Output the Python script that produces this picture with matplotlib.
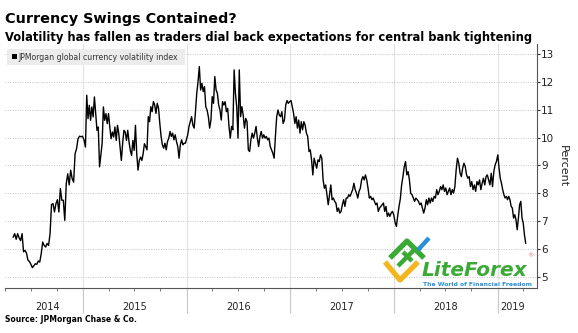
import matplotlib
matplotlib.use("Agg")
import matplotlib.pyplot as plt
from matplotlib.patches import Rectangle
from matplotlib.lines import Line2D
from matplotlib.transforms import blended_transform_factory
import pandas as pd

# JPMorgan global currency volatility index, one list per year
vals_2014 = [6.43, 6.55, 6.35, 6.55, 6.4, 6.3, 6.55, 5.9, 5.95, 5.85, 5.6, 5.55, 5.45,
             5.33, 5.4, 5.47, 5.45, 5.57, 5.53, 5.83, 6.25, 6.13, 6.07, 6.2, 6.13, 6.55,
             7.6, 7.63, 7.33, 7.63, 7.77, 7.33, 8.17, 7.75, 7.75, 7.03, 8.35, 8.7, 8.3,
             8.83, 8.53, 8.4, 9.42, 9.6, 9.96, 10.05, 10.03, 10.05]
vals_2015 = [9.9, 9.66, 11.52, 10.68, 11.16, 10.62, 11.1, 10.74, 11.46, 10.86, 10.26,
             10.38, 8.95, 9.36, 9.78, 11.1, 10.62, 10.86, 10.5, 10.86, 10.38, 9.96, 10.2,
             10.02, 10.38, 9.9, 10.44, 10.14, 9.66, 9.18, 9.78, 10.26, 10.2, 9.9, 10.26,
             9.84, 9.54, 9.36, 9.9, 9.54, 10.44, 9.42, 8.83, 9.18, 9.3, 9.18, 9.42, 9.78,
             9.68, 9.56, 10.75, 10.57, 11.11, 10.93, 11.29, 11.17, 10.87, 11.23, 11.05,
             10.51, 10.04, 9.74, 9.62, 9.8, 9.56, 9.86, 9.98, 10.22, 10.04, 10.16, 9.92,
             10.1, 9.86, 9.68, 9.26, 9.74, 9.92, 9.74, 9.8, 9.8]
vals_2016 = [10.1, 10.4, 10.57, 10.75, 10.45, 10.34, 10.93, 11.59, 12.01, 12.55, 11.71,
             11.95, 11.65, 11.83, 11.11, 10.99, 10.75, 10.34, 10.63, 11.47, 11.23, 12.19,
             11.71, 11.59, 11.17, 10.99, 10.63, 11.29, 11.17, 11.29, 10.93, 11.05, 10.4,
             9.98, 10.4, 10.28, 12.43, 11.59, 11.11, 9.98, 12.43, 10.75, 11.11, 10.81,
             10.34, 10.69, 10.57, 9.56, 9.5, 9.92, 10.16, 9.98, 10.16, 10.4, 9.98, 9.68,
             10.04, 10.22, 9.98, 10.1, 9.98, 10.04, 9.92, 9.98, 9.68, 9.56, 9.44, 9.26,
             10.04, 10.75, 10.99, 10.81, 10.75, 10.93, 10.51, 10.63, 11.17, 11.33, 11.23,
             11.29]
vals_2017 = [11.33, 11.11, 10.87, 10.51, 10.75, 10.34, 10.63, 10.16, 10.57, 10.28, 10.57,
             10.45, 10.16, 10.04, 9.5, 9.56, 9.2, 8.66, 9.26, 9.08, 8.9, 9.2, 9.14, 9.38,
             9.26, 8.48, 8.18, 8.3, 7.95, 7.59, 7.95, 8.3, 7.77, 7.83, 7.71, 7.65, 7.35,
             7.47, 7.29, 7.35, 7.59, 7.77, 7.53, 7.83, 7.83, 7.95, 7.89, 8.01, 8.13, 8.36,
             8.13, 8.01, 7.83, 8.07, 8.18, 8.48, 8.6, 8.48, 8.66, 8.48, 8.18, 7.83, 7.89,
             7.77, 7.83, 7.71, 7.59, 7.65, 7.35, 7.47, 7.53, 7.59, 7.65, 7.35, 7.53, 7.17,
             7.29, 7.17, 7.29, 7.35, 7.23]
vals_2018 = [6.95, 6.81, 7.2, 7.53, 7.8, 8.3, 8.6, 8.95, 9.14, 8.66, 8.78, 8.48, 8.0, 7.95,
             7.83, 7.71, 7.83, 7.77, 7.71, 7.59, 7.65, 7.47, 7.29, 7.47, 7.77, 7.59, 7.83,
             7.65, 7.83, 7.71, 7.89, 7.83, 8.13, 7.95, 8.07, 8.24, 8.13, 8.3, 8.07, 8.19,
             7.95, 8.07, 8.19, 7.95, 8.13, 8.01, 8.24, 8.84, 9.26, 9.08, 8.72, 8.6, 8.9,
             9.08, 8.96, 8.66, 8.54, 8.6, 8.24, 8.42, 8.13, 8.3, 8.07, 8.42, 8.3, 8.48,
             8.13, 8.36, 8.54, 8.3, 8.6, 8.66, 8.48, 8.3, 8.72, 8.24, 8.78, 9.02, 9.14]
vals_2019 = [9.38, 8.9, 8.54, 8.36, 8.13, 7.95, 7.83, 7.89, 7.77, 7.89, 7.77, 7.53, 7.47,
             7.11, 7.23, 7.05, 6.69, 7.11, 7.59, 7.71, 7.11, 6.93, 6.51, 6.21]

segments = [("2014-04-30", "2014-12-30", vals_2014),
            ("2015-01-05", "2015-12-28", vals_2015),
            ("2016-01-05", "2016-12-29", vals_2016),
            ("2017-01-03", "2017-12-31", vals_2017),
            ("2018-01-05", "2018-12-28", vals_2018),
            ("2019-01-02", "2019-04-10", vals_2019)]

years = ["2014", "2015", "2016", "2017", "2018", "2019"]
year_label_dates = ["2014-08-29", "2015-07-02", "2016-07-01", "2017-07-02", "2018-07-02", "2019-02-22"]
yticks = [5, 6, 7, 8, 9, 10, 11, 12, 13]

dates = []
values = []
for start, end, vals in segments:
    dates.extend(pd.date_range(start, end, periods=len(vals)))
    values.extend(vals)

W, H = 578, 333
fig = plt.figure(figsize=(W / 100, H / 100), dpi=100)
ax = fig.add_axes([5 / W, 45 / H, 532 / W, 244 / H])

ax.plot(dates, values, color="black", lw=1.0, zorder=3)
ax.set_xlim(pd.Timestamp("2014-04-26"), pd.Timestamp("2019-05-20"))
ax.set_ylim(4.6, 13.36)

# y axis on the right
ax.yaxis.tick_right()
ax.set_yticks(yticks)
ax.tick_params(axis="y", length=2, width=0.8, color="#333333", labelsize=7.5, pad=1,
               labelcolor="#222222")
ax.yaxis.grid(True, linestyle=(0, (1, 1.5)), color="#c4c4c4", lw=0.7)
ax.set_ylabel("Percent", rotation=270, fontsize=8, color="#222222", labelpad=10)
ax.yaxis.set_label_position("right")

# x axis: long separators at year starts, small quarter ticks
year_starts = [pd.Timestamp(f"{y}-01-01") for y in range(2015, 2020)]
quarters = [d for d in pd.date_range("2014-04-01", "2019-04-01", freq="QS") if d.month != 1]
ax.set_xticks(year_starts)
ax.set_xticklabels([])
ax.set_xticks(quarters, minor=True)
ax.tick_params(axis="x", which="major", length=18, width=0.8, color="#c8c8c8")
ax.tick_params(axis="x", which="minor", length=2.2, width=0.7, color="#777777")
ax.xaxis.grid(True, which="major", color="#e2e2e2", lw=0.8)

trans = blended_transform_factory(ax.transData, ax.transAxes)
for lab, d in zip(years, year_label_dates):
    ax.text(pd.Timestamp(d), -19 / 244, lab, transform=trans, ha="center", va="center",
            fontsize=7, color="#222222")

for s in ["top", "left"]:
    ax.spines[s].set_visible(False)
for s in ["right", "bottom"]:
    ax.spines[s].set_color("#555555")
    ax.spines[s].set_linewidth(0.8)

# titles
fig.text(5 / W, 1 - 23 / H, "Currency Swings Contained?", fontsize=10.4, fontweight="bold",
         va="baseline")
fig.text(5 / W, 1 - 41 / H,
         "Volatility has fallen as traders dial back expectations for central bank tightening",
         fontsize=8.3, fontweight="bold", va="baseline")
fig.text(5 / W, 1 - 320 / H, "Source: JPMorgan Chase & Co.", fontsize=5.5, fontweight="bold",
         va="center")

# legend box
fig.add_artist(Rectangle((6.7 / W, 1 - 65 / H), 178 / W, 16 / H, transform=fig.transFigure,
                         facecolor="#ececec", edgecolor="none", zorder=4))
fig.add_artist(Rectangle((11.7 / W, 1 - 59 / H), 5 / W, 5 / H, transform=fig.transFigure,
                         facecolor="black", edgecolor="none", zorder=5))
fig.text(18.5 / W, 1 - 57 / H, "JPMorgan global currency volatility index", fontsize=5.6,
         va="center", color="#333333", zorder=6)

# LiteForex watermark
def px_line(xs, ys, color, lw):
    fig.add_artist(Line2D([x / W for x in xs], [1 - y / H for y in ys], transform=fig.transFigure,
                          color=color, lw=lw, solid_capstyle="butt", zorder=7))

px_line([385, 400, 418], [262, 280, 262], "#f2b620", 3.8)
px_line([390, 407, 424], [258, 241, 258], "#3aaa35", 3.8)
px_line([398, 414], [266, 250], "#3aaa35", 3.2)
px_line([403, 412], [252, 261], "#3aaa35", 3.2)
px_line([418, 429], [250, 238], "#2a90d6", 3.2)
fig.text(422 / W, 1 - 276 / H, "LiteForex", fontsize=14.5, fontweight="bold", style="italic",
         color="#3aaa35", va="baseline", zorder=7)
fig.text(530 / W, 1 - 256 / H, "®", fontsize=4.5, color="#e8707a", va="center", ha="center",
         zorder=7)
fig.text(423 / W, 1 - 284 / H, "The World of Financial Freedom", fontsize=4.4, fontweight="bold",
         color="#2a90d6", va="center", zorder=7,
         bbox=dict(facecolor="white", edgecolor="none", pad=0.5))

fig.savefig("out.png", dpi=100)
